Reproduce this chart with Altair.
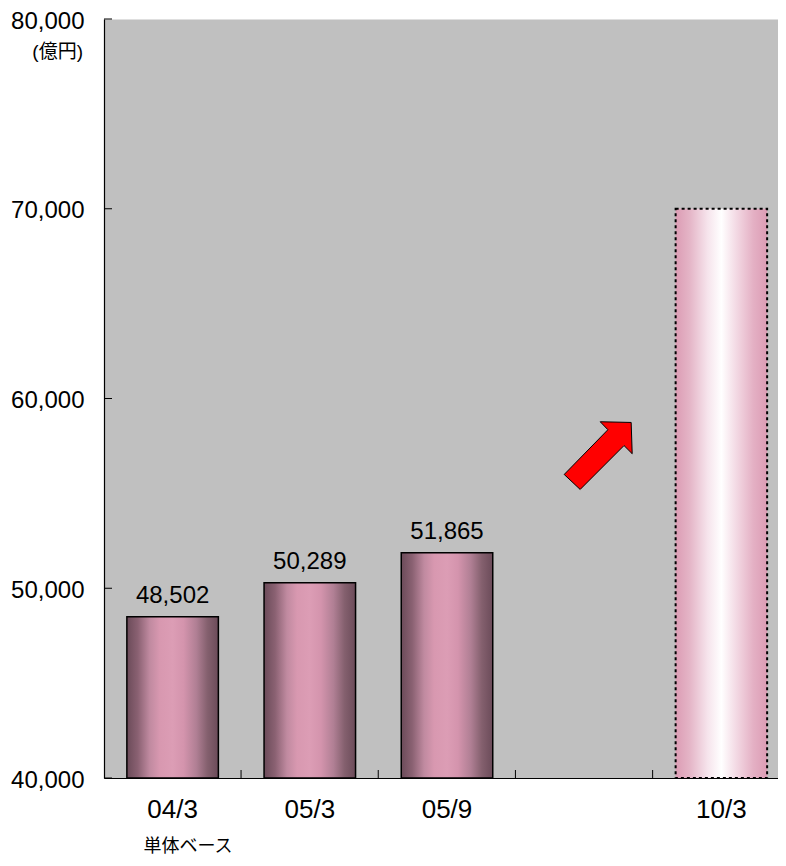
import altair as alt
import pandas as pd

# ---- data ----
categories = ["04/3", "05/3", "05/9", " ", "10/3"]
actual_cats = ["04/3", "05/3", "05/9"]
actual_vals = [48502, 50289, 51865]
target_cats = ["10/3"]
target_vals = [70000]
y_ticks = [40000, 50000, 60000, 70000, 80000]
tick_cats = ["05/3", "05/9", " ", "10/3"]
arrow_cats = [" "]
arrow_vals = [57000]
unit_label = "(億円)"
base_label = "単体ベース"

W, H = 674, 759
XRANGE = 686
FONT = "Liberation Sans, Noto Sans CJK JP"

actual_df = pd.DataFrame({"cat": actual_cats, "v": actual_vals})
target_df = pd.DataFrame({"cat": target_cats, "v": target_vals})
yt_df = pd.DataFrame({"v": y_ticks})
xt_df = pd.DataFrame({"cat": tick_cats})
arrow_df = pd.DataFrame({"cat": arrow_cats, "v": arrow_vals})
unit_df = pd.DataFrame({"v": [80000], "t": [unit_label]})

xscale = alt.Scale(domain=categories, paddingInner=0.333, paddingOuter=0.1667,
                   range=[0, XRANGE])
yscale = alt.Scale(domain=[40000, 80000], zero=False, nice=False)

xaxis = alt.Axis(
    labelAngle=0, labelFontSize=26, labelPadding=18, ticks=False, tickSize=0,
    domainColor="black", domainWidth=1.2, labelColor="black",
    title=base_label, titleFontSize=18, titleFontWeight="normal", titleColor="black",
    titleX=39, titleY=73, titleAlign="left", titleBaseline="alphabetic",
    titleAnchor="start",
)
yaxis = alt.Axis(
    values=y_ticks, format=",d", labelFontSize=24, labelPadding=20, ticks=False,
    tickSize=0, grid=False, domainColor="black", domainWidth=1.2,
    labelColor="black", title=None, labelOffset=2,
)

X = alt.X("cat:N", scale=xscale, sort=categories, axis=xaxis)
Y = alt.Y("v:Q", scale=yscale, axis=yaxis)

bar_grad = alt.Gradient(
    gradient="linear", x1=0, x2=1, y1=0, y2=0,
    stops=[
        alt.GradientStop(offset=0.0, color="#6b4b59"),
        alt.GradientStop(offset=0.12, color="#8a6172"),
        alt.GradientStop(offset=0.25, color="#c08aa0"),
        alt.GradientStop(offset=0.36, color="#d898b0"),
        alt.GradientStop(offset=0.5, color="#dc9db5"),
        alt.GradientStop(offset=0.62, color="#d494ad"),
        alt.GradientStop(offset=0.76, color="#b07f94"),
        alt.GradientStop(offset=0.88, color="#84606e"),
        alt.GradientStop(offset=1.0, color="#6b4b59"),
    ],
)
target_grad = alt.Gradient(
    gradient="linear", x1=0, x2=1, y1=0, y2=0,
    stops=[
        alt.GradientStop(offset=0.0, color="#dc9cb4"),
        alt.GradientStop(offset=0.15, color="#e4b4c6"),
        alt.GradientStop(offset=0.35, color="#f6e4ec"),
        alt.GradientStop(offset=0.5, color="#ffffff"),
        alt.GradientStop(offset=0.65, color="#f4dce6"),
        alt.GradientStop(offset=0.85, color="#e4b0c4"),
        alt.GradientStop(offset=1.0, color="#dc9cb4"),
    ],
)

bars = alt.Chart(actual_df).mark_bar(
    fill=bar_grad, stroke="black", strokeWidth=1.5
).encode(x=X, y=Y, y2=alt.datum(40000))

target = alt.Chart(target_df).mark_bar(
    fill=target_grad, stroke="black", strokeWidth=2, strokeDash=[3, 3]
).encode(x=X, y=Y, y2=alt.datum(40000))

labels = alt.Chart(actual_df).mark_text(
    fontSize=24, baseline="alphabetic", dy=-14, color="black"
).encode(x=X, y=Y, text=alt.Text("v:Q", format=",d"))

xticks = alt.Chart(xt_df).mark_rule(
    color="black", strokeWidth=1, xOffset=-23
).encode(
    x=alt.X("cat:N", scale=xscale, sort=categories, axis=xaxis, bandPosition=0),
    y=alt.value(H - 8), y2=alt.value(H),
)

yticks = alt.Chart(yt_df).mark_rule(color="black", strokeWidth=1).encode(
    y=Y, x=alt.value(0), x2=alt.value(8)
)

arrow_path = "M -1 0.56 L 0.285 -0.756 L 0.06 -0.99 L 0.97 -0.97 L 1 -0.05 L 0.76 -0.29 L -0.53 1 Z"
arrow = alt.Chart(arrow_df).mark_point(
    shape=arrow_path, filled=True, fill="#ff0000", stroke="black",
    strokeWidth=1, opacity=1, size=4624, xOffset=14,
).encode(x=X, y=Y)

unit = alt.Chart(unit_df).mark_text(
    align="right", baseline="middle", fontSize=19, dy=33, color="black"
).encode(y=Y, x=alt.value(-21), text="t:N")

chart = alt.layer(bars, target, labels, xticks, yticks, arrow, unit).properties(
    width=W, height=H,
    autosize=alt.AutoSizeParams(type="none"),
    padding={"left": 96, "top": 11, "right": 0, "bottom": 80},
).configure(font=FONT).configure_view(
    fill="#c0c0c0", stroke="transparent"
)

chart.save("out.html", embed_options={"renderer": "svg", "actions": False})
